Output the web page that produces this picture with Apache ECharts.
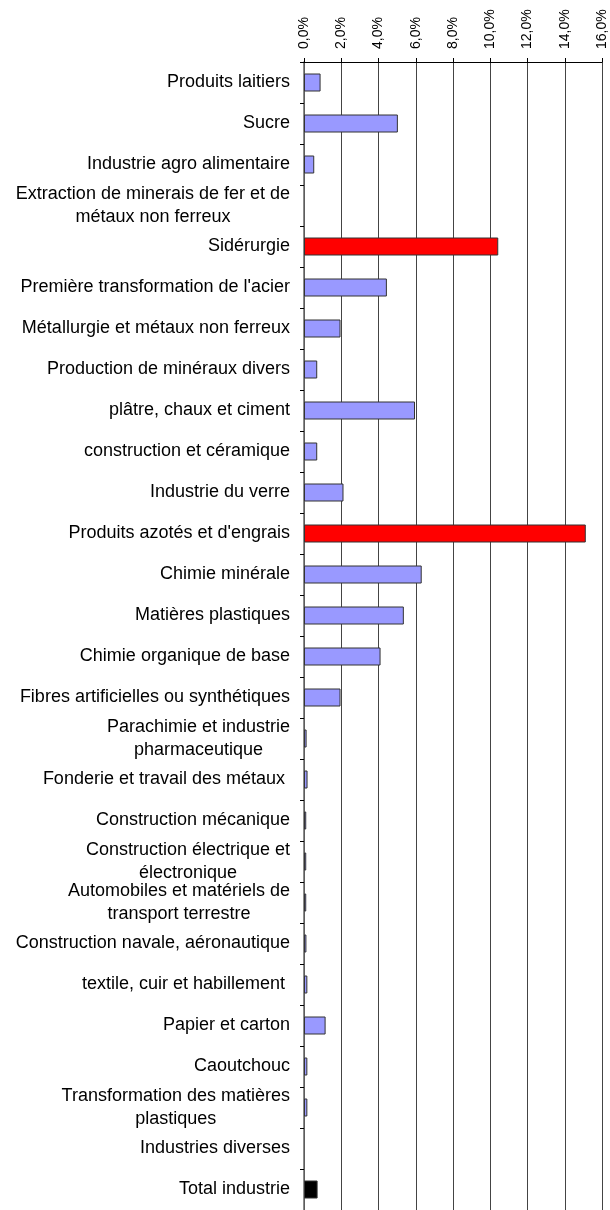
<!DOCTYPE html>
<html>
<head>
<meta charset="utf-8">
<script src="https://cdn.jsdelivr.net/npm/echarts@6/dist/echarts.min.js"></script>
<style>
  html, body { margin: 0; padding: 0; background: #fff; }
  #chart { width: 610px; height: 1210px; }
</style>
</head>
<body>
<div id="chart"></div>
<script>
// Sector names (top to bottom); "\n" marks a wrapped label
const categories = [
  'Produits laitiers',
  'Sucre',
  'Industrie agro alimentaire',
  'Extraction de minerais de fer et de\nmétaux non ferreux',
  'Sidérurgie',
  "Première transformation de l'acier",
  'Métallurgie et métaux non ferreux',
  'Production de minéraux divers',
  'plâtre, chaux et ciment',
  'construction et céramique',
  'Industrie du verre',
  "Produits azotés et d'engrais",
  'Chimie minérale',
  'Matières plastiques',
  'Chimie organique de base',
  'Fibres artificielles ou synthétiques',
  'Parachimie et industrie\npharmaceutique',
  'Fonderie et travail des métaux ',
  'Construction mécanique',
  'Construction électrique et\nélectronique',
  'Automobiles et matériels de\ntransport terrestre',
  'Construction navale, aéronautique',
  'textile, cuir et habillement ',
  'Papier et carton',
  'Caoutchouc',
  'Transformation des matières\nplastiques',
  'Industries diverses',
  'Total industrie'
];

// Share per sector, in percent
const shares = [
  0.89, 5.04, 0.55, 0, 10.43, 4.45, 1.96, 0.71, 5.96, 0.71,
  2.12, 15.13, 6.32, 5.36, 4.11, 1.96, 0.14, 0.19, 0.12, 0.12,
  0.12, 0.13, 0.18, 1.16, 0.18, 0.18, 0, 0.73
];

// Scale ticks (percent)
const tickValues = [0, 2, 4, 6, 8, 10, 12, 14, 16];

// Sectors drawn with a distinct fill
const highlighted = ['Sidérurgie', "Produits azotés et d'engrais"];
const totalName = 'Total industrie';

const BASE = '#9999FF', HIGHLIGHT = '#FF0000', TOTAL = '#000000';
const FONT = '"Liberation Sans", Arial, sans-serif';

const chart = echarts.init(document.getElementById('chart'), null, { renderer: 'canvas' });

const barData = shares.map((v, i) => {
  const name = categories[i];
  let color = BASE;
  if (highlighted.includes(name)) color = HIGHLIGHT;
  if (name === totalName) color = TOTAL;
  // an empty sector gets no outline either
  return { value: v, itemStyle: { color: color, borderWidth: v === 0 ? 0 : 1 } };
});

chart.setOption({
  animation: false,
  backgroundColor: '#ffffff',
  grid: { left: 304, right: 8, top: 62, bottom: -4, containLabel: false },
  xAxis: {
    type: 'value',
    position: 'top',
    min: tickValues[0],
    max: tickValues[tickValues.length - 1],
    interval: 2,
    axisLine: { show: true, lineStyle: { color: '#000', width: 1 } },
    axisTick: { show: true, length: 4, lineStyle: { color: '#000' } },
    splitLine: { show: true, lineStyle: { color: '#444', width: 1 } },
    axisLabel: {
      rotate: -90,
      margin: 13,
      fontFamily: FONT,
      fontSize: 14,
      color: '#000',
      formatter: v => v.toFixed(1).replace('.', ',') + '%'
    }
  },
  yAxis: {
    type: 'category',
    inverse: true,
    data: categories,
    axisLine: { show: true, lineStyle: { color: '#666', width: 1.5 } },
    axisTick: { show: true, length: 4, inside: false, lineStyle: { color: '#000' } },
    splitLine: { show: false },
    axisLabel: {
      margin: 14,
      interval: 0,
      align: 'right',
      fontFamily: FONT,
      fontSize: 18,
      lineHeight: 23,
      color: '#000',
      formatter: s => s.split('\n').map(l => '{c|' + l + '}').join('\n'),
      rich: {
        c: {
          align: 'center',
          fontFamily: FONT,
          fontSize: 18,
          lineHeight: 23,
          color: '#000'
        }
      }
    }
  },
  series: [{
    type: 'bar',
    data: barData,
    barWidth: 18,
    itemStyle: { borderColor: '#333', borderWidth: 1 }
  }]
});
</script>
</body>
</html>
